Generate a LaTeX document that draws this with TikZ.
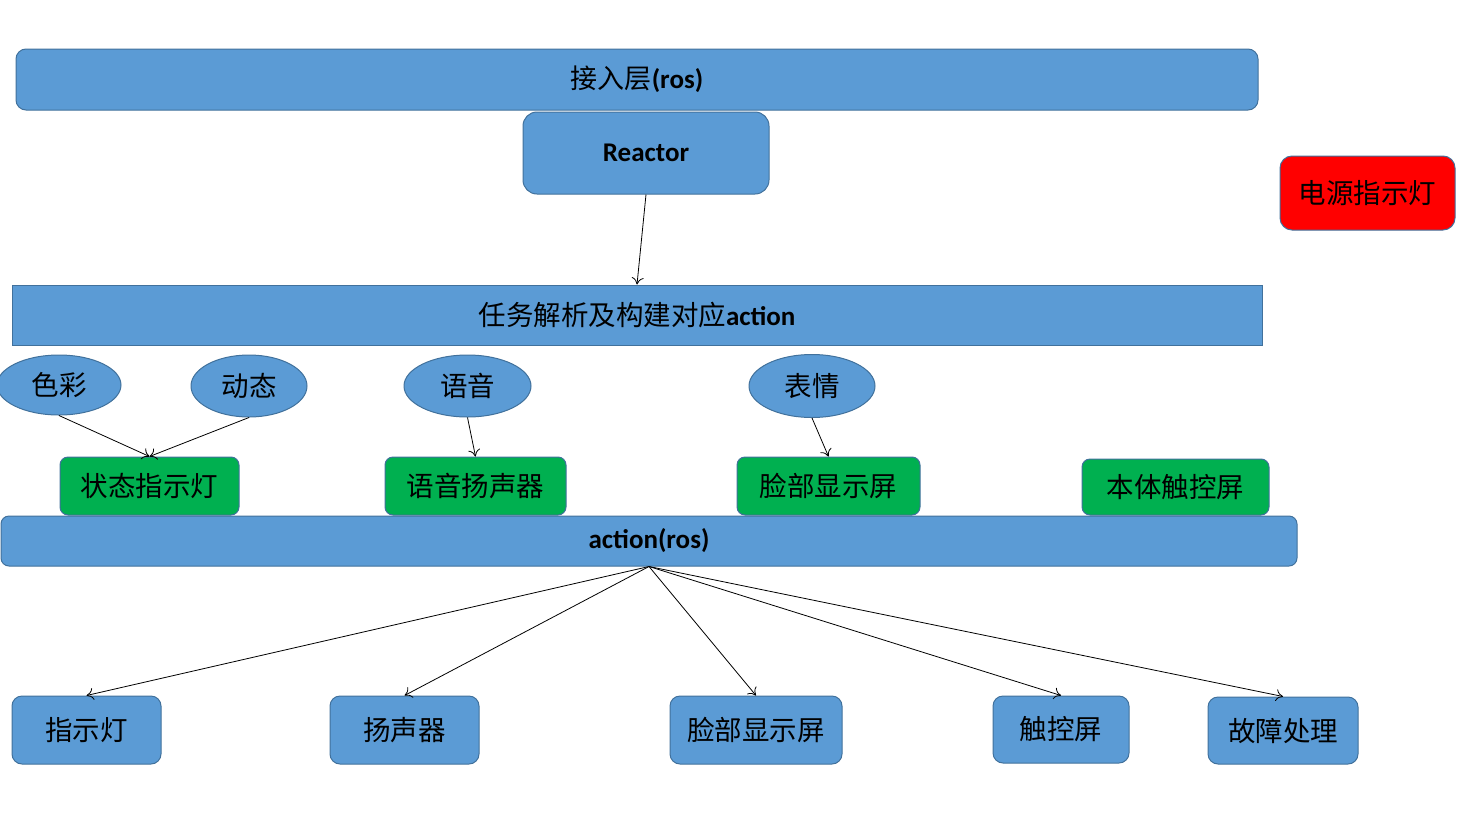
\documentclass[tikz,border=0pt]{standalone}
\usepackage{fontspec}
\setmainfont{Carlito}
\newfontfamily\cjk{Noto Sans CJK SC}
\usetikzlibrary{arrows.meta,shapes.geometric}
\definecolor{bfill}{HTML}{5B9BD5}
\definecolor{bline}{HTML}{41719C}
\definecolor{gfill}{HTML}{00B050}
\definecolor{rfill}{HTML}{FF0000}
\tikzset{
  bar/.style={draw=bline, fill=bfill, line width=1pt, inner sep=0pt, anchor=center},
  bluebox/.style={draw=bline, fill=bfill, line width=1pt, rounded corners=10pt, inner sep=0pt, anchor=center, font=\cjk\fontsize{27.5}{32}\selectfont},
  greenbox/.style={draw=bline, fill=gfill, line width=1pt, rounded corners=8pt, inner sep=0pt, anchor=center, font=\cjk\fontsize{27.5}{32}\selectfont},
  oval/.style={ellipse, draw=bline, fill=bfill, line width=1pt, inner sep=0pt, anchor=center, font=\cjk\fontsize{27.5}{32}\selectfont},
  conn/.style={draw=black, line width=0.8pt, -{To[length=7pt,width=12pt]}},
}
\begin{document}
\begin{tikzpicture}[x=1pt,y=-1pt]
\useasboundingbox (0,0) rectangle (1464,825);
% bars
\node[bar, rounded corners=10pt, minimum width=1242pt, minimum height=61pt] (top) at (637,79.5) {{\cjk\fontsize{27}{32}\selectfont 接入层}{\fontsize{27}{32}\selectfont\bfseries (ros)}};
\node[bar, rounded corners=14pt, minimum width=246pt, minimum height=82pt] (reactor) at (646,153) {\fontsize{27}{32}\selectfont\bfseries Reactor};
\node[bar, draw=bline, fill=rfill, rounded corners=12pt, minimum width=175pt, minimum height=74pt, font=\cjk\fontsize{27.5}{32}\selectfont] (power) at (1367.5,193) {电源指示灯};
\node[bar, minimum width=1250pt, minimum height=60pt] (task) at (637,315) {{\cjk\fontsize{27.5}{32}\selectfont 任务解析及构建对应}{\fontsize{27}{32}\selectfont\bfseries action}};
% ellipses
\node[oval, minimum width=124pt, minimum height=60pt] (secai) at (59,385) {色彩};
\node[oval, minimum width=116pt, minimum height=62pt] (dongtai) at (249,386) {动态};
\node[oval, minimum width=127pt, minimum height=62pt] (yuyin) at (467.5,386) {语音};
\node[oval, minimum width=126pt, minimum height=63pt] (biaoqing) at (812,386) {表情};
% green boxes
\node[greenbox, minimum width=179pt, minimum height=58pt] (zt) at (149.5,486) {状态指示灯};
\node[greenbox, minimum width=181pt, minimum height=58pt] (yy) at (475.5,486) {语音扬声器};
\node[greenbox, minimum width=183pt, minimum height=58pt] (lb) at (828.5,486) {脸部显示屏};
\node[greenbox, minimum width=187pt, minimum height=56pt] (bt) at (1175.5,487) {本体触控屏};
% action bar
\node[bar, rounded corners=8pt, minimum width=1296pt, minimum height=50pt] (act) at (649,541) {\fontsize{27}{32}\selectfont\bfseries action(ros)};
% bottom boxes
\node[bluebox, minimum width=149pt, minimum height=68pt] (zsd) at (86.5,730) {指示灯};
\node[bluebox, minimum width=149pt, minimum height=68pt] (ysq) at (404.5,730) {扬声器};
\node[bluebox, minimum width=172pt, minimum height=68pt] (lbx) at (756,730) {脸部显示屏};
\node[bluebox, minimum width=136pt, minimum height=67pt] (ckp) at (1061,729.5) {触控屏};
\node[bluebox, minimum width=150pt, minimum height=67pt] (gzcl) at (1283,730.5) {故障处理};
% connectors
\draw[conn] (reactor.south) -- (task.north);
\draw[conn] (secai.south) -- (zt.north);
\draw[conn] (dongtai.south) -- (zt.north);
\draw[conn] (yuyin.south) -- (yy.north);
\draw[conn] (biaoqing.south) -- (lb.north);
\draw[conn] (act.south) -- (zsd.north);
\draw[conn] (act.south) -- (ysq.north);
\draw[conn] (act.south) -- (lbx.north);
\draw[conn] (act.south) -- (ckp.north);
\draw[conn] (act.south) -- (gzcl.north);
\end{tikzpicture}
\end{document}
